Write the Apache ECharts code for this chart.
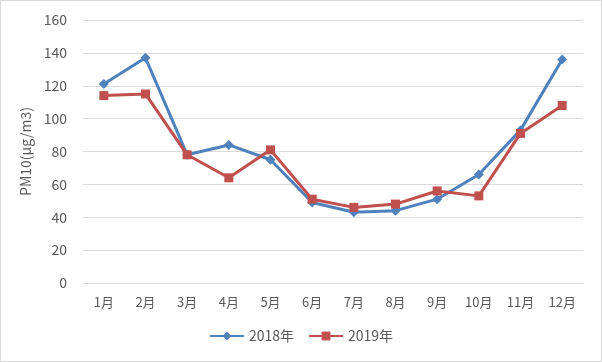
<!DOCTYPE html>
<html><head><meta charset="utf-8">
<script src="https://cdn.jsdelivr.net/npm/echarts@6/dist/echarts.min.js"></script>
<style>html,body{margin:0;padding:0;background:#fff;}#c{width:602px;height:362px;box-sizing:border-box;border:1px solid #d9d9d9;}</style>
</head><body><div id="c"></div>
<script>
const categories = ['1月','2月','3月','4月','5月','6月','7月','8月','9月','10月','11月','12月'];
const s2018 = [121,137,78,84,75,49,43,44,51,66,93,136];
const s2019 = [114,115,78,64,81,51,46,48,56,53,91,108];
const yTicks = {min:0, max:160, interval:20};
const chart = echarts.init(document.getElementById('c'));
const font = '"Noto Sans CJK SC", "Liberation Sans", sans-serif';
chart.setOption({
  animation:false,
  textStyle:{fontFamily:font},
  grid:{left:82,right:18,top:19,bottom:78},
  legend:{bottom:13,left:'center',itemWidth:34,itemHeight:11,itemGap:14,
    textStyle:{color:'#595959',fontSize:14,fontFamily:font},
    data:['2018年','2019年']},
  xAxis:{type:'category',data:categories,boundaryGap:true,
    axisLine:{lineStyle:{color:'#d9d9d9'}},axisTick:{show:false},
    axisLabel:{color:'#595959',fontSize:13,margin:13,fontFamily:font}},
  yAxis:{type:'value',min:yTicks.min,max:yTicks.max,interval:yTicks.interval,
    name:'PM10(μg/m3)',nameLocation:'middle',nameGap:44,nameRotate:90,
    nameTextStyle:{color:'#595959',fontSize:14,fontFamily:font},
    axisLine:{show:false},axisTick:{show:false},
    axisLabel:{color:'#595959',fontSize:14,margin:16,fontFamily:font},
    splitLine:{lineStyle:{color:'#d9d9d9'}}},
  series:[
    {name:'2018年',type:'line',data:s2018,symbol:'diamond',symbolSize:10,
      lineStyle:{color:'#4F81BD',width:3},itemStyle:{color:'#4F81BD'}},
    {name:'2019年',type:'line',data:s2019,symbol:'rect',symbolSize:9,
      lineStyle:{color:'#C0504D',width:3},itemStyle:{color:'#C0504D'}}
  ]
});
</script></body></html>
